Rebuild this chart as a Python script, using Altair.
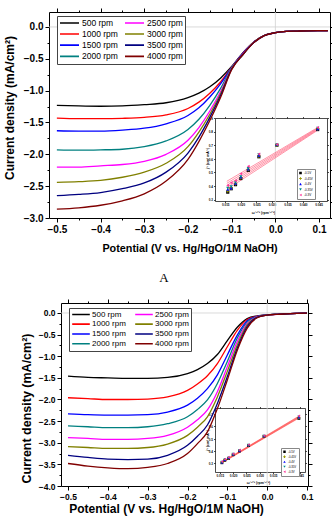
import altair as alt
import pandas as pd

CAPTION = "A"
FONT = "Liberation Sans"

# ---------------- main curves ----------------
RPM = ["500 rpm", "1000 rpm", "1500 rpm", "2000 rpm", "2500 rpm", "3000 rpm", "3500 rpm", "4000 rpm"]
RPM_COLORS = ["#000000", "#ff0000", "#0000ff", "#008080", "#ff00ff", "#808000", "#000080", "#800000"]

TOP_V = [-0.5, -0.45, -0.4, -0.35, -0.3, -0.25, -0.2, -0.175, -0.15, -0.125, -0.1,
         -0.075, -0.05, -0.025, 0.0, 0.025, 0.05, 0.075, 0.1, 0.12]
TOP_500 = [-1.23, -1.24, -1.245, -1.24, -1.22, -1.19, -1.11, -1.04, -0.94, -0.80, -0.62,
           -0.41, -0.24, -0.13, -0.09, -0.07, -0.065, -0.06, -0.058, -0.057]
TOP_1000 = [-1.43, -1.44, -1.44, -1.435, -1.42, -1.38, -1.28, -1.18, -1.04, -0.86, -0.63,
            -0.42, -0.24, -0.13, -0.09, -0.07, -0.065, -0.06, -0.058, -0.057]
TOP_1500 = [-1.63, -1.635, -1.635, -1.62, -1.59, -1.52, -1.39, -1.27, -1.10, -0.89, -0.635,
            -0.42, -0.24, -0.13, -0.09, -0.07, -0.065, -0.06, -0.058, -0.057]
TOP_2000 = [-1.93, -1.935, -1.93, -1.92, -1.88, -1.79, -1.61, -1.45, -1.23, -0.96, -0.64,
            -0.43, -0.245, -0.13, -0.09, -0.07, -0.065, -0.06, -0.058, -0.057]
TOP_2500 = [-2.20, -2.20, -2.18, -2.16, -2.11, -2.00, -1.78, -1.58, -1.32, -1.01, -0.65,
            -0.43, -0.245, -0.13, -0.09, -0.07, -0.065, -0.06, -0.058, -0.057]
TOP_3000 = [-2.44, -2.43, -2.41, -2.36, -2.28, -2.14, -1.88, -1.65, -1.37, -1.04, -0.655,
            -0.44, -0.245, -0.13, -0.09, -0.07, -0.065, -0.06, -0.058, -0.057]
TOP_3500 = [-2.65, -2.63, -2.60, -2.54, -2.45, -2.28, -1.98, -1.73, -1.42, -1.07, -0.66,
            -0.44, -0.25, -0.135, -0.09, -0.07, -0.065, -0.06, -0.058, -0.057]
TOP_4000 = [-2.86, -2.84, -2.80, -2.73, -2.62, -2.42, -2.08, -1.80, -1.47, -1.10, -0.67,
            -0.44, -0.25, -0.135, -0.09, -0.07, -0.065, -0.06, -0.058, -0.057]

BOT_V = [-0.5, -0.45, -0.4, -0.35, -0.3, -0.25, -0.2, -0.175, -0.15, -0.125, -0.1,
         -0.075, -0.05, -0.025, 0.0, 0.025, 0.05, 0.075, 0.1]
BOT_500 = [-1.46, -1.49, -1.50, -1.51, -1.51, -1.49, -1.40, -1.31, -1.17, -0.96, -0.64,
           -0.33, -0.13, -0.065, -0.04, -0.03, -0.02, -0.01, -0.005]
BOT_1000 = [-1.96, -1.98, -2.00, -2.00, -1.99, -1.94, -1.79, -1.64, -1.45, -1.17, -0.78,
            -0.40, -0.15, -0.075, -0.045, -0.03, -0.02, -0.01, -0.005]
BOT_1500 = [-2.33, -2.35, -2.36, -2.36, -2.35, -2.29, -2.13, -1.97, -1.75, -1.43, -0.97,
            -0.51, -0.18, -0.08, -0.045, -0.03, -0.02, -0.01, -0.005]
BOT_2000 = [-2.61, -2.63, -2.65, -2.65, -2.63, -2.56, -2.40, -2.23, -2.01, -1.63, -1.12,
            -0.58, -0.21, -0.085, -0.045, -0.03, -0.02, -0.01, -0.005]
BOT_2500 = [-2.88, -2.90, -2.92, -2.92, -2.90, -2.83, -2.64, -2.47, -2.24, -1.82, -1.24,
            -0.66, -0.24, -0.09, -0.05, -0.03, -0.02, -0.01, -0.005]
BOT_3000 = [-3.09, -3.11, -3.13, -3.13, -3.11, -3.03, -2.83, -2.64, -2.40, -1.94, -1.35,
            -0.74, -0.27, -0.095, -0.05, -0.03, -0.02, -0.01, -0.005]
BOT_3500 = [-3.29, -3.34, -3.38, -3.39, -3.38, -3.29, -3.06, -2.85, -2.59, -2.09, -1.47,
            -0.81, -0.31, -0.10, -0.05, -0.03, -0.02, -0.01, -0.005]
BOT_4000 = [-3.48, -3.54, -3.58, -3.60, -3.57, -3.48, -3.25, -3.02, -2.75, -2.21, -1.55,
            -0.86, -0.35, -0.11, -0.05, -0.03, -0.02, -0.01, -0.005]

# reference (zero) lines
TOP_ZERO_X1 = [0.0, -0.518]
TOP_ZERO_X2 = [0.0, 0.125]
TOP_ZERO_Y1 = [-3.0, 0.0]
TOP_ZERO_Y2 = [0.235, 0.0]
BOT_ZERO_X1 = [0.0, -0.5176]
BOT_ZERO_X2 = [0.0, 0.1025]
BOT_ZERO_Y1 = [-4.0, 0.0]
BOT_ZERO_Y2 = [0.231, 0.0]

# tick values
TOP_X_TICKS = [-0.5, -0.45, -0.4, -0.35, -0.3, -0.25, -0.2, -0.15, -0.1, -0.05, 0.0, 0.05, 0.1]
TOP_Y_TICKS = [-3.0, -2.75, -2.5, -2.25, -2.0, -1.75, -1.5, -1.25, -1.0, -0.75, -0.5, -0.25, 0.0]
BOT_X_TICKS = [-0.5, -0.45, -0.4, -0.35, -0.3, -0.25, -0.2, -0.15, -0.1, -0.05, 0.0, 0.05, 0.1]
BOT_Y_TICKS = [-4.0, -3.75, -3.5, -3.25, -3.0, -2.75, -2.5, -2.25, -2.0, -1.75, -1.5, -1.25,
               -1.0, -0.75, -0.5, -0.25, 0.0]
INSET_X_TICKS = [0.015, 0.020, 0.025, 0.030, 0.035, 0.040, 0.045]
TOP_INSET_Y_TICKS = [0.3, 0.4, 0.5, 0.6, 0.7, 0.8, 0.9]
BOT_INSET_Y_TICKS = [0.3, 0.4, 0.5, 0.6, 0.7]

# ---------------- insets ----------------
INSET_X = [0.0158, 0.0169, 0.0183, 0.0200, 0.0224, 0.0258, 0.0316, 0.0447]
INSET_SERIES = ["-0.5V", "-0.45V", "-0.4V", "-0.35V", "-0.3V"]
INSET_COLORS = ["#000000", "#999900", "#0000ff", "#008b8b", "#ff3399"]
INSET_SHAPES = ["square", "cross", "triangle-up", "triangle-down", "triangle-left"]

TOP_IN_1 = [0.355, 0.380, 0.410, 0.455, 0.515, 0.615, 0.700, 0.815]
TOP_IN_2 = [0.365, 0.385, 0.415, 0.460, 0.520, 0.620, 0.700, 0.820]
TOP_IN_3 = [0.375, 0.385, 0.420, 0.465, 0.525, 0.625, 0.705, 0.820]
TOP_IN_4 = [0.385, 0.395, 0.425, 0.470, 0.530, 0.630, 0.700, 0.825]
TOP_IN_5 = [0.405, 0.425, 0.440, 0.490, 0.545, 0.635, 0.705, 0.830]
TOP_FIT_X = [0.0155, 0.0447]
TOP_FIT_START = [0.375, 0.390, 0.405, 0.420, 0.435]
TOP_FIT_END = [0.810, 0.815, 0.820, 0.825, 0.830]

BOT_IN_1 = [0.305, 0.325, 0.340, 0.370, 0.400, 0.445, 0.520, 0.665]
BOT_IN_2 = [0.308, 0.328, 0.343, 0.372, 0.403, 0.447, 0.520, 0.670]
BOT_IN_3 = [0.310, 0.330, 0.345, 0.374, 0.405, 0.449, 0.522, 0.675]
BOT_IN_4 = [0.312, 0.332, 0.347, 0.376, 0.407, 0.450, 0.523, 0.680]
BOT_IN_5 = [0.315, 0.334, 0.350, 0.378, 0.409, 0.452, 0.525, 0.685]
BOT_FIT_X = [0.0155, 0.0447]
BOT_FIT_START = [0.300, 0.302, 0.304, 0.306, 0.308]
BOT_FIT_END = [0.668, 0.672, 0.676, 0.680, 0.684]

# ---------------- tables ----------------
def curves_table(vs, curves):
    rows = []
    for name, vals in zip(RPM, curves):
        for v, j in zip(vs, vals):
            rows.append({"V": v, "J": j, "rpm": name})
    return pd.DataFrame(rows)


def inset_table(series_vals):
    rows = []
    for name, vals in zip(INSET_SERIES, series_vals):
        for x, y in zip(INSET_X, vals):
            rows.append({"ix": x, "iy": y, "series": name})
    return pd.DataFrame(rows)


def fit_table(starts, ends, xs):
    rows = []
    for name, a, b in zip(INSET_SERIES, starts, ends):
        rows.append({"fx": xs[0], "fy": a, "series": name})
        rows.append({"fx": xs[1], "fy": b, "series": name})
    return pd.DataFrame(rows)


top_df = curves_table(TOP_V, [TOP_500, TOP_1000, TOP_1500, TOP_2000, TOP_2500, TOP_3000, TOP_3500, TOP_4000])
bot_df = curves_table(BOT_V, [BOT_500, BOT_1000, BOT_1500, BOT_2000, BOT_2500, BOT_3000, BOT_3500, BOT_4000])
ti_df = inset_table([TOP_IN_1, TOP_IN_2, TOP_IN_3, TOP_IN_4, TOP_IN_5])
bi_df = inset_table([BOT_IN_1, BOT_IN_2, BOT_IN_3, BOT_IN_4, BOT_IN_5])
tfit_df = fit_table(TOP_FIT_START, TOP_FIT_END, TOP_FIT_X)
bfit_df = fit_table(BOT_FIT_START, BOT_FIT_END, BOT_FIT_X)
tzero_df = pd.DataFrame({"x1": TOP_ZERO_X1, "x2": TOP_ZERO_X2, "y1": TOP_ZERO_Y1, "y2": TOP_ZERO_Y2})
bzero_df = pd.DataFrame({"x1": BOT_ZERO_X1, "x2": BOT_ZERO_X2, "y1": BOT_ZERO_Y1, "y2": BOT_ZERO_Y2})

X_MINOR = "abs(round(datum.value * 20)) % 2 == 1"
Y_MINOR = "abs(round(datum.value * 4)) % 2 == 1"
X_LABEL = "abs(round(datum.value * 20)) % 2 == 1 ? '' : format(datum.value, '.1f')"
Y_LABEL = "abs(round(datum.value * 4)) % 2 == 1 ? '' : format(datum.value, '.1f')"


def ax(orient, offset, values, labels=True, label_expr=None, fmt=None, size=10.0,
       tick=4.0, tick_minor=None, minor_test=None, title=None, title_size=11.0,
       title_x=0.0, title_y=0.0, width=1.0, pad=2.0):
    kw = dict(orient=orient, offset=offset, values=values, grid=False,
              domainColor="black", domainWidth=width, tickColor="black",
              tickWidth=width, labels=labels, labelOverlap=False, labelFlush=False)
    if minor_test is not None:
        kw["tickSize"] = {"condition": {"test": minor_test, "value": tick_minor}, "value": tick}
    else:
        kw["tickSize"] = tick
    if labels:
        kw.update(labelFont=FONT, labelFontSize=size, labelFontWeight="bold",
                  labelColor="black", labelPadding=pad)
        if label_expr is not None:
            kw["labelExpr"] = label_expr
        if fmt is not None:
            kw["format"] = fmt
    if title is not None:
        kw.update(title=title, titleFont=FONT, titleFontSize=title_size,
                  titleFontWeight="bold", titleColor="black", titleX=title_x,
                  titleY=title_y, titleAlign="center", titleBaseline="middle")
        if orient in ("left", "right"):
            kw["titleAngle"] = 270
    else:
        kw["title"] = None
    return alt.Axis(**kw)


def sc(domain, rng):
    return alt.Scale(domain=domain, range=rng, nice=False, zero=False)


# ---------------- top panel ----------------
TX = sc([-0.518, 0.125], [49, 330])
TY = sc([-3.0, 0.235], [218, 12])

top_zero = alt.Chart(tzero_df).mark_rule(color="#d0d0d0", strokeWidth=0.8).encode(
    x=alt.X("x1:Q", scale=TX, axis=ax("top", -12, TOP_X_TICKS, labels=False,
                                         minor_test=X_MINOR, tick=4, tick_minor=2)),
    x2="x2:Q",
    y=alt.Y("y1:Q", scale=TY, axis=ax("right", -2, TOP_Y_TICKS, labels=False,
                                         minor_test=Y_MINOR, tick=4, tick_minor=2)),
    y2="y2:Q",
)

top_curves = alt.Chart(top_df).mark_line(strokeWidth=1.3, interpolate="monotone").encode(
    x=alt.X("V:Q", scale=TX, axis=ax("bottom", -301, TOP_X_TICKS, label_expr=X_LABEL,
                                        size=10, minor_test=X_MINOR, tick=4, tick_minor=2,
                                        title="Potential (V vs. Hg/HgO/1M NaOH)",
                                        title_size=10.8, title_x=189.5, title_y=30)),
    y=alt.Y("J:Q", scale=TY, axis=ax("left", -49, TOP_Y_TICKS, label_expr=Y_LABEL,
                                        size=10, minor_test=Y_MINOR, tick=4, tick_minor=2,
                                        title="Current density (mA/cm²)",
                                        title_size=12, title_x=-40, title_y=107.5)),
    color=alt.Color("rpm:N", scale=alt.Scale(domain=RPM, range=RPM_COLORS),
                    legend=alt.Legend(orient="none", legendX=57, legendY=16, columns=2,
                                      title=None, symbolType="stroke", symbolSize=361,
                                      symbolStrokeWidth=1.6, labelFont=FONT,
                                      labelFontSize=8.5, labelColor="black", labelOffset=2,
                                      padding=2, rowPadding=1.2, columnPadding=6,
                                      strokeColor="#444444", fillColor="white",
                                      clipHeight=9.5)),
)

# ---------------- top inset ----------------
TIX = sc([0.0117, 0.0477], [215, 327])
TIY = sc([0.29, 0.9], [201, 118])

inset_legend_top = alt.Legend(orient="none", legendX=297, legendY=169, title=None,
                              symbolSize=7, symbolStrokeWidth=0, labelFont=FONT,
                              labelFontSize=3, labelColor="black", labelOffset=2,
                              padding=2, rowPadding=1.5, strokeColor="#888888",
                              fillColor="white", clipHeight=4)

top_fit = alt.Chart(tfit_df).mark_line(strokeWidth=0.6, color="#ff4d6d").encode(
    x=alt.X("fx:Q", scale=TIX, axis=ax("top", -118, INSET_X_TICKS, labels=False, tick=1.5, width=0.7)),
    y=alt.Y("fy:Q", scale=TIY, axis=ax("right", -5, TOP_INSET_Y_TICKS, labels=False, tick=1.5, width=0.7)),
    detail="series:N",
)

top_pts = alt.Chart(ti_df).mark_point(filled=True, size=10, opacity=1).encode(
    x=alt.X("ix:Q", scale=TIX, axis=ax("bottom", -318, INSET_X_TICKS, fmt=".3f", size=3,
                                          tick=1.5, width=0.7, pad=1,
                                          title="ω⁻¹ᐟ² (rpm⁻¹ᐟ²)", title_size=3.5,
                                          title_x=263, title_y=11)),
    y=alt.Y("iy:Q", scale=TIY, axis=ax("left", -215, TOP_INSET_Y_TICKS, fmt=".1f", size=3,
                                          tick=1.5, width=0.7, pad=1,
                                          title="j⁻¹ (cm² mA⁻¹)", title_size=3.5,
                                          title_x=-8, title_y=158)),
    color=alt.Color("series:N", scale=alt.Scale(domain=INSET_SERIES, range=INSET_COLORS),
                    legend=inset_legend_top),
    shape=alt.Shape("series:N", scale=alt.Scale(domain=INSET_SERIES, range=INSET_SHAPES),
                    legend=inset_legend_top),
)

# ---------------- bottom panel ----------------
BX = sc([-0.5176, 0.1025], [61, 308])
BY = sc([-4.0, 0.231], [486, 303])

bot_zero = alt.Chart(bzero_df).mark_rule(color="#d0d0d0", strokeWidth=0.8).encode(
    x=alt.X("x1:Q", scale=BX, axis=ax("top", -303, BOT_X_TICKS, labels=False,
                                         minor_test=X_MINOR, tick=4, tick_minor=2)),
    x2="x2:Q",
    y=alt.Y("y1:Q", scale=BY, axis=ax("right", -24, BOT_Y_TICKS, labels=False,
                                         minor_test=Y_MINOR, tick=4, tick_minor=2)),
    y2="y2:Q",
)

bot_curves = alt.Chart(bot_df).mark_line(strokeWidth=1.3, interpolate="monotone").encode(
    x=alt.X("V:Q", scale=BX, axis=ax("bottom", -33, BOT_X_TICKS, label_expr=X_LABEL,
                                        size=8.5, minor_test=X_MINOR, tick=4, tick_minor=2,
                                        title="Potential (V vs. Hg/HgO/1M NaOH)",
                                        title_size=12, title_x=166, title_y=22)),
    y=alt.Y("J:Q", scale=BY, axis=ax("left", -61, BOT_Y_TICKS, label_expr=Y_LABEL,
                                        size=8.5, minor_test=Y_MINOR, tick=4, tick_minor=2,
                                        title="Current density (mA/cm²)",
                                        title_size=12.5, title_x=-34.5, title_y=408)),
    color=alt.Color("rpm:N", scale=alt.Scale(domain=RPM, range=RPM_COLORS),
                    legend=alt.Legend(orient="none", legendX=69, legendY=308, columns=2,
                                      title=None, symbolType="stroke", symbolSize=310,
                                      symbolStrokeWidth=1.6, labelFont=FONT,
                                      labelFontSize=8, labelColor="black", labelOffset=1,
                                      padding=2, rowPadding=0.8, columnPadding=8,
                                      strokeColor="#444444", fillColor="white",
                                      clipHeight=8.7)),
)

# ---------------- bottom inset ----------------
BIX = sc([0.0132, 0.047], [215, 305])
BIY = sc([0.23, 0.75], [472, 408])

inset_legend_bot = alt.Legend(orient="none", legendX=281, legendY=448, title=None,
                              symbolSize=6, symbolStrokeWidth=0, labelFont=FONT,
                              labelFontSize=2.8, labelColor="black", labelOffset=2,
                              padding=2, rowPadding=1, strokeColor="#888888",
                              fillColor="white", clipHeight=3.5)

bot_fit = alt.Chart(bfit_df).mark_line(strokeWidth=0.6, color="#ff4d4d").encode(
    x=alt.X("fx:Q", scale=BIX, axis=ax("top", -408, INSET_X_TICKS, labels=False, tick=1.5, width=0.7)),
    y=alt.Y("fy:Q", scale=BIY, axis=ax("right", -27, BOT_INSET_Y_TICKS, labels=False, tick=1.5, width=0.7)),
    detail="series:N",
)

bot_pts = alt.Chart(bi_df).mark_point(filled=True, size=8, opacity=1).encode(
    x=alt.X("ix:Q", scale=BIX, axis=ax("bottom", -47, INSET_X_TICKS, fmt=".3f", size=3,
                                          tick=1.5, width=0.7, pad=1,
                                          title="ω⁻¹ᐟ² (rpm⁻¹ᐟ²)", title_size=3.5,
                                          title_x=258, title_y=10)),
    y=alt.Y("iy:Q", scale=BIY, axis=ax("left", -215, BOT_INSET_Y_TICKS, fmt=".1f", size=3,
                                          tick=1.5, width=0.7, pad=1,
                                          title="j⁻¹ (cm² mA⁻¹)", title_size=3.5,
                                          title_x=-8, title_y=440)),
    color=alt.Color("series:N", scale=alt.Scale(domain=INSET_SERIES, range=INSET_COLORS),
                    legend=inset_legend_bot),
    shape=alt.Shape("series:N", scale=alt.Scale(domain=INSET_SERIES, range=INSET_SHAPES),
                    legend=inset_legend_bot),
)

caption = alt.Chart(pd.DataFrame({"t": [CAPTION]})).mark_text(
    font="Liberation Serif", fontSize=13, color="black", align="center", baseline="middle"
).encode(text="t:N", x=alt.value(164), y=alt.value(278))

chart = (
    alt.layer(top_zero, top_curves, top_fit, top_pts,
              bot_zero, bot_curves, bot_fit, bot_pts, caption)
    .resolve_scale(x="independent", y="independent", color="independent", shape="independent")
    .resolve_axis(x="independent", y="independent")
    .resolve_legend(color="independent", shape="independent")
    .properties(width=332, height=519, autosize=alt.AutoSizeParams(type="none"),
                padding=0, background="white")
    .configure_view(stroke="transparent")
)

chart.save("out.html", embed_options={"renderer": "svg", "actions": False})
